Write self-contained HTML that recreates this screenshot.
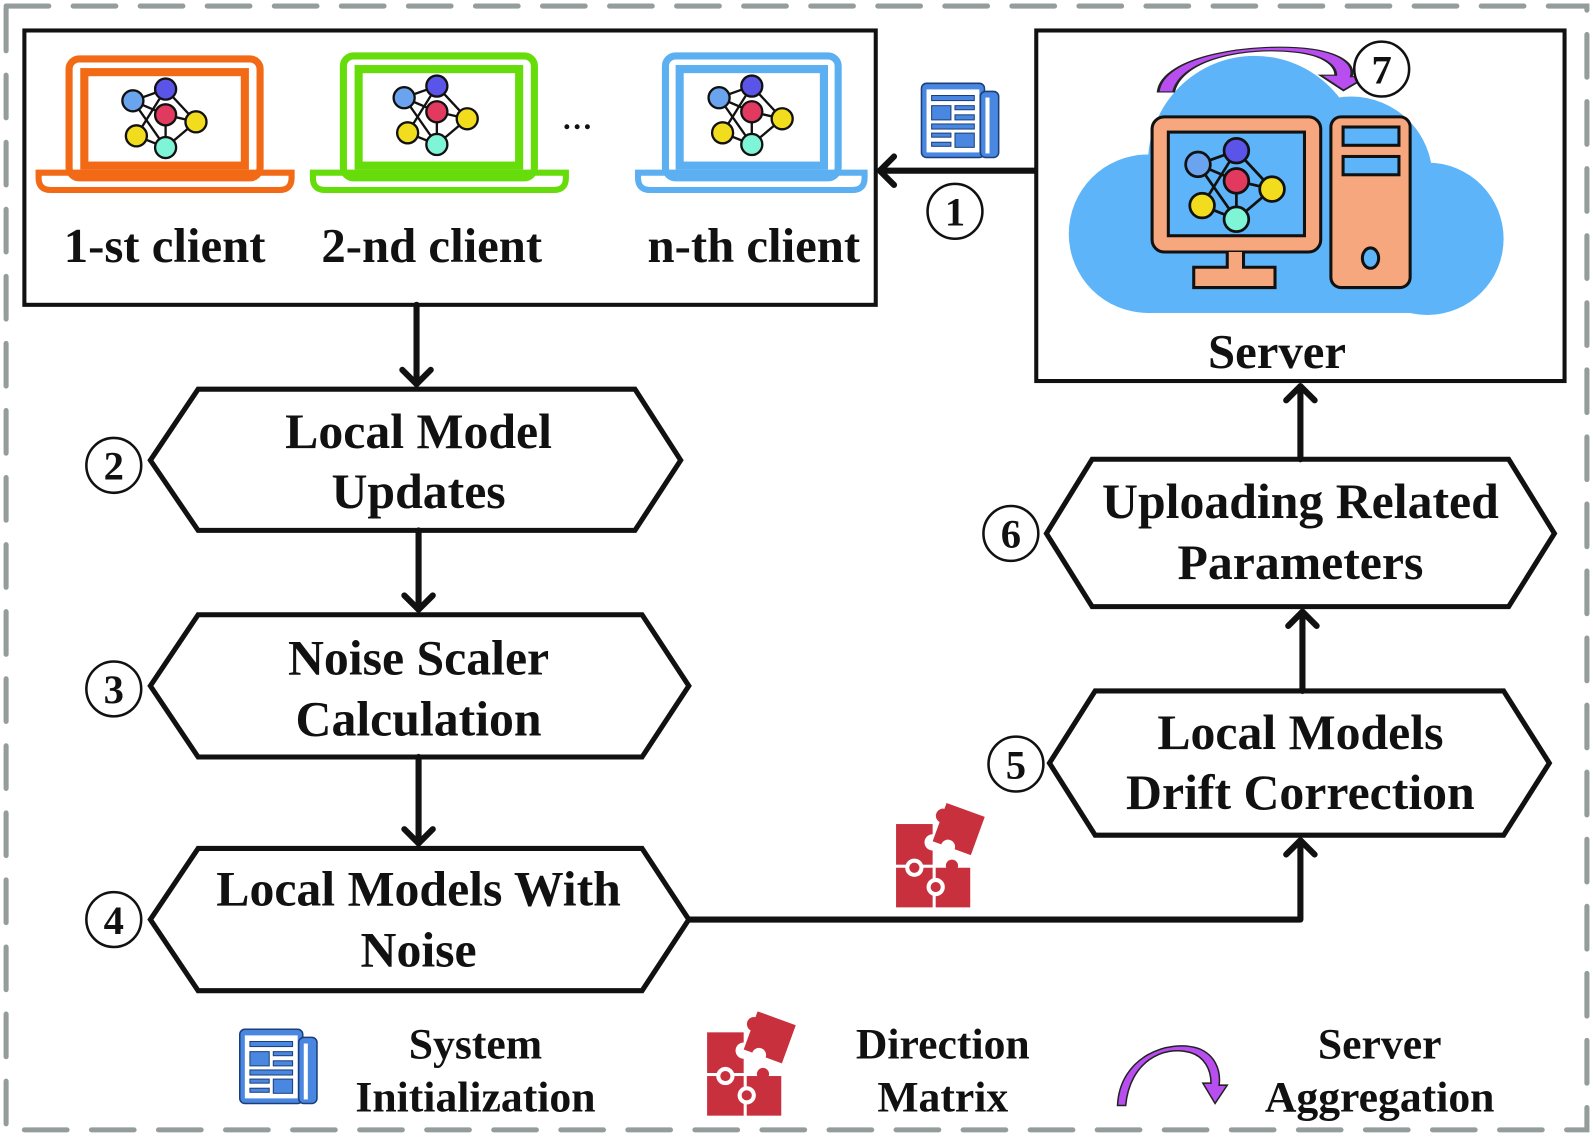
<!DOCTYPE html>
<html><head><meta charset="utf-8"><style>
html,body{margin:0;padding:0;background:#fff;}
svg{display:block;}
text{font-family:"Liberation Serif",serif;font-weight:bold;fill:#111;}
</style></head><body>
<svg width="1593" height="1137" viewBox="0 0 1568 1119" preserveAspectRatio="none" xmlns="http://www.w3.org/2000/svg">
<defs>
<g id="net">
 <g stroke="#111" stroke-width="2" fill="none">
  <line x1="-28" y1="-12" x2="0" y2="-22"/><line x1="-28" y1="-12" x2="0" y2="0"/><line x1="-28" y1="-12" x2="0" y2="28"/>
  <line x1="0" y1="-22" x2="26" y2="6"/><line x1="0" y1="-22" x2="-25" y2="18"/><line x1="0" y1="0" x2="26" y2="6"/>
  <line x1="0" y1="0" x2="0" y2="28"/><line x1="26" y1="6" x2="0" y2="28"/><line x1="-25" y1="18" x2="0" y2="28"/>
 </g>
 <g stroke="#111" stroke-width="2">
  <circle cx="-28" cy="-12" r="9" fill="#6ba4ee"/><circle cx="0" cy="-22" r="9" fill="#5a55e8"/>
  <circle cx="0" cy="0" r="9" fill="#e23a5e"/><circle cx="26" cy="6" r="9" fill="#f2dc1e"/>
  <circle cx="-25" cy="18" r="9" fill="#f2dc1e"/><circle cx="0" cy="28" r="9" fill="#7ff5d8"/>
 </g>
</g>
<g id="doc">
 <rect x="0" y="0" width="62" height="73" rx="5" fill="#4a87e0" stroke="#1a3f7a" stroke-width="1.5"/>
 <rect x="58" y="8" width="18" height="65" rx="5" fill="#4a87e0" stroke="#1a3f7a" stroke-width="1.5"/>
 <rect x="5" y="6" width="52" height="62" fill="#fff"/>
 <rect x="63" y="14" width="4" height="55" fill="#fff"/>
 <g fill="#4a87e0" stroke="#1a3f7a" stroke-width="1">
  <rect x="10" y="12" width="42" height="5"/><rect x="10" y="22" width="19" height="14"/><rect x="33" y="22" width="19" height="4"/>
  <rect x="33" y="31" width="19" height="5"/><rect x="10" y="40" width="42" height="5"/><rect x="10" y="49" width="19" height="4"/>
  <rect x="33" y="49" width="19" height="14"/><rect x="10" y="58" width="19" height="4"/>
 </g>
</g>
<g id="puzzle" fill="#c8303e">
 <rect x="0" y="18" width="36" height="40"/>
 <rect x="0" y="61" width="36" height="39"/>
 <rect x="39" y="61" width="34" height="39"/>
 <circle cx="36" cy="36" r="8" fill="#fff"/>
 <circle cx="18" cy="61" r="9" fill="#fff"/><circle cx="18" cy="61" r="5"/>
 <circle cx="39" cy="80" r="9" fill="#fff"/><circle cx="39" cy="80" r="5"/>
 <circle cx="55" cy="59" r="6"/>
 <g transform="rotate(20 62 22)"><rect x="42" y="3" width="40" height="40"/><circle cx="43" cy="16" r="7"/><circle cx="58" cy="43" r="7" fill="#fff"/></g>
</g>
<g id="arc">
 <path d="M0 58 C2 10 50 -8 80 2 C95 8 102 22 100 38 L108 38 L96 56 L84 36 L92 36 C92 22 85 10 72 6 C45 -2 12 15 8 58 Z" fill="#b84ef0" stroke="#222" stroke-width="1.5"/>
</g>
<g id="arrowL"><polyline points="0,0 -14,14 0,28" fill="none" stroke="#111" stroke-width="6" stroke-linecap="round" stroke-linejoin="round"/></g>
</defs>

<rect x="6" y="6" width="1556" height="1106" fill="none" stroke="#959d9c" stroke-width="5" stroke-dasharray="42 24" stroke-linecap="round"/>

<rect x="24" y="30" width="838" height="270" fill="none" stroke="#111" stroke-width="4"/>

<g transform="translate(35,55)">
 <rect x="33" y="3" width="188" height="117" rx="10" fill="none" stroke="#f26a16" stroke-width="7"/>
 <rect x="48" y="16" width="158" height="92" fill="none" stroke="#f26a16" stroke-width="8"/>
 <path d="M3 115 H252 V120 Q252 132 240 132 H15 Q3 132 3 120 Z" fill="none" stroke="#f26a16" stroke-width="6"/>
 <g transform="translate(128,58) scale(1.15)"><use href="#net"/></g>
</g>
<g transform="translate(305,52)">
 <rect x="33" y="3" width="188" height="120" rx="10" fill="none" stroke="#66dd0a" stroke-width="7"/>
 <rect x="48" y="16" width="158" height="95" fill="none" stroke="#66dd0a" stroke-width="8"/>
 <path d="M3 118 H252 V123 Q252 135 240 135 H15 Q3 135 3 123 Z" fill="none" stroke="#66dd0a" stroke-width="6"/>
 <g transform="translate(125,58) scale(1.15)"><use href="#net"/></g>
</g>
<text x="568" y="127" font-size="30" text-anchor="middle">…</text>
<g transform="translate(625,52)">
 <rect x="30" y="3" width="170" height="120" rx="10" fill="none" stroke="#5cb0f2" stroke-width="7"/>
 <rect x="44" y="16" width="142" height="95" fill="none" stroke="#5cb0f2" stroke-width="8"/>
 <path d="M3 118 H226 V123 Q226 135 214 135 H15 Q3 135 3 123 Z" fill="none" stroke="#5cb0f2" stroke-width="6"/>
 <g transform="translate(115,58) scale(1.15)"><use href="#net"/></g>
</g>
<text x="162" y="258" font-size="48" text-anchor="middle">1-st client</text>
<text x="425" y="258" font-size="48" text-anchor="middle">2-nd client</text>
<text x="742" y="258" font-size="48" text-anchor="middle">n-th client</text>

<rect x="1020" y="30" width="520" height="345" fill="none" stroke="#111" stroke-width="4"/>
<g fill="#5eb4f8">
 <circle cx="1235" cy="160" r="105"/>
 <circle cx="1330" cy="175" r="80"/>
 <circle cx="1405" cy="235" r="75"/>
 <circle cx="1130" cy="230" r="78"/>
 <rect x="1130" y="200" width="275" height="108"/>
</g>
<rect x="1134" y="115" width="166" height="133" rx="12" fill="#f6a77d" stroke="#111" stroke-width="3"/>
<rect x="1150" y="130" width="134" height="102" fill="#5eb4f8" stroke="#111" stroke-width="3"/>
<path d="M1208 248 V263 H1175 V283 H1255 V263 H1224 V248" fill="#f6a77d" stroke="#111" stroke-width="3"/>
<g transform="translate(1217,178) scale(1.35)"><use href="#net"/></g>
<rect x="1310" y="115" width="78" height="168" rx="10" fill="#f6a77d" stroke="#111" stroke-width="3"/>
<rect x="1322" y="125" width="55" height="18" fill="#5eb4f8" stroke="#111" stroke-width="3"/>
<rect x="1322" y="154" width="55" height="18" fill="#5eb4f8" stroke="#111" stroke-width="3"/>
<ellipse cx="1349" cy="254" rx="8" ry="10" fill="#5eb4f8" stroke="#111" stroke-width="3"/>
<g transform="translate(1140,47) scale(1.9,0.75)"><use href="#arc"/></g>
<circle cx="1360" cy="68" r="27" fill="#fff" stroke="#111" stroke-width="2.5"/>
<text x="1360" y="82" font-size="40" text-anchor="middle">7</text>
<text x="1257" y="362" font-size="48" text-anchor="middle">Server</text>

<line x1="1020" y1="168" x2="866" y2="168" stroke="#111" stroke-width="6"/>
<use href="#arrowL" x="880" y="154"/>
<use href="#doc" x="907" y="82"/>
<circle cx="940" cy="208" r="27" fill="#fff" stroke="#111" stroke-width="2.5"/>
<text x="940" y="222" font-size="40" text-anchor="middle">1</text>

<g fill="none" stroke="#111" stroke-width="5" stroke-linejoin="miter">
 <polygon points="195,383 625,383 670,453 625,522 195,522 148,453"/>
 <polygon points="195,605 632,605 678,675 632,745 195,745 148,675"/>
 <polygon points="195,835 632,835 678,905 632,975 195,975 148,905"/>
 <polygon points="1078,680 1480,680 1525,751 1480,822 1078,822 1033,751"/>
 <polygon points="1075,452 1485,452 1530,525 1485,597 1075,597 1030,525"/>
</g>
<g font-size="49">
<text x="412" y="441" text-anchor="middle">Local Model</text>
<text x="412" y="500" text-anchor="middle">Updates</text>
<text x="412" y="664" text-anchor="middle">Noise Scaler</text>
<text x="412" y="724" text-anchor="middle">Calculation</text>
<text x="412" y="891" text-anchor="middle">Local Models With</text>
<text x="412" y="951" text-anchor="middle">Noise</text>
<text x="1280" y="737" text-anchor="middle">Local Models</text>
<text x="1280" y="796" text-anchor="middle">Drift Correction</text>
<text x="1280" y="510" text-anchor="middle">Uploading Related</text>
<text x="1280" y="570" text-anchor="middle">Parameters</text>
</g>

<g fill="#fff" stroke="#111" stroke-width="2.5">
 <circle cx="112" cy="458" r="27"/><circle cx="112" cy="678" r="27"/><circle cx="112" cy="905" r="27"/>
 <circle cx="1000" cy="752" r="27"/><circle cx="995" cy="525" r="27"/>
</g>
<g font-size="40">
<text x="112" y="472" text-anchor="middle">2</text>
<text x="112" y="692" text-anchor="middle">3</text>
<text x="112" y="919" text-anchor="middle">4</text>
<text x="1000" y="766" text-anchor="middle">5</text>
<text x="995" y="539" text-anchor="middle">6</text>
</g>

<g stroke="#111" stroke-width="6" fill="none" stroke-linecap="round" stroke-linejoin="round">
 <line x1="410" y1="300" x2="410" y2="378"/><polyline points="396,364 410,378 424,364"/>
 <line x1="412" y1="522" x2="412" y2="600"/><polyline points="398,586 412,600 426,586"/>
 <line x1="412" y1="745" x2="412" y2="830"/><polyline points="398,816 412,830 426,816"/>
 <polyline points="678,905 1280,905 1280,827" stroke-linecap="butt"/><polyline points="1266,841 1280,827 1294,841"/>
 <line x1="1282" y1="680" x2="1282" y2="602"/><polyline points="1268,616 1282,602 1296,616"/>
 <line x1="1280" y1="452" x2="1280" y2="380"/><polyline points="1266,394 1280,380 1294,394"/>
</g>
<use href="#puzzle" x="882" y="793"/>

<use href="#doc" x="236" y="1013"/>
<text x="468" y="1042" font-size="43" text-anchor="middle">System</text>
<text x="468" y="1094" font-size="43" text-anchor="middle">Initialization</text>
<use href="#puzzle" x="696" y="998"/>
<text x="928" y="1042" font-size="43" text-anchor="middle">Direction</text>
<text x="928" y="1094" font-size="43" text-anchor="middle">Matrix</text>
<use href="#arc" x="1100" y="1030"/>
<text x="1358" y="1042" font-size="43" text-anchor="middle">Server</text>
<text x="1358" y="1094" font-size="43" text-anchor="middle">Aggregation</text>
</svg>
</body></html>
